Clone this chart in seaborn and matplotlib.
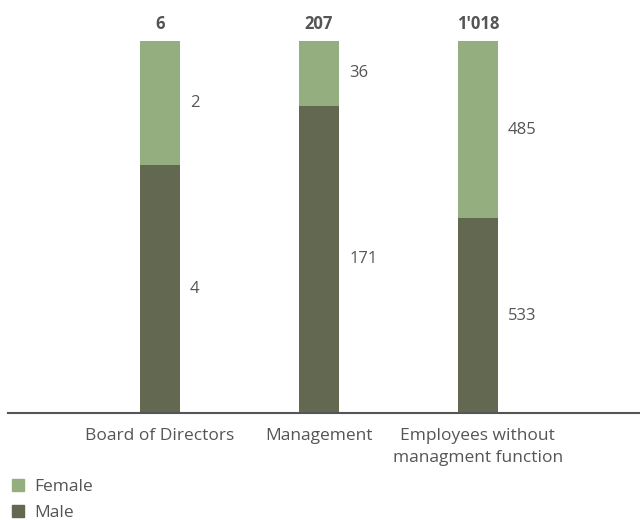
import numpy as np
import pandas as pd
import matplotlib.pyplot as plt
import matplotlib.patches as mpatches
import seaborn as sns

# data
categories = ["Board of Directors", "Management", "Employees without\nmanagment function"]
female = [2, 36, 485]
male = [4, 171, 533]
totals = ["6", "207", "1'018"]

female_color = "#95ae7f"
male_color = "#636850"
text_color = "#555555"

sns.set_theme(style="white")
plt.rcParams["font.family"] = ["Open Sans", "DejaVu Sans"]

df = pd.DataFrame({"category": categories, "female": female, "male": male})
df["total"] = df["female"] + df["male"]
df["male_share"] = df["male"] / df["total"]
df["full"] = 1.0

fig = plt.figure(figsize=(6.4, 5.2), dpi=100)
ax = fig.add_axes([0.0125, 0.206, 0.9875, 0.715])

# full bar in female colour, male share drawn over it (100% stacked)
sns.barplot(data=df, x="category", y="full", color=female_color, width=0.25,
            saturation=1, linewidth=0, ax=ax)
sns.barplot(data=df, x="category", y="male_share", color=male_color, width=0.25,
            saturation=1, linewidth=0, ax=ax)

ax.set_xlim(-0.955, 3.02)
ax.set_ylim(0, 1)
ax.set_xlabel("")
ax.set_ylabel("")
ax.set_yticks([])
for s in ["top", "right", "left"]:
    ax.spines[s].set_visible(False)
ax.spines["bottom"].set_color("#555555")
ax.spines["bottom"].set_linewidth(1.5)
ax.tick_params(axis="x", length=0, pad=11, labelsize=12.5, colors=text_color)
for lbl in ax.get_xticklabels():
    lbl.set_linespacing(1.5)

# value labels
for i, row in df.iterrows():
    ms = row["male_share"]
    ax.text(i + 0.19, ms / 2, str(row["male"]), va="center", ha="left",
            fontsize=12, color=text_color)
    ax.text(i + 0.19, ms + (1 - ms) / 2, str(row["female"]), va="center", ha="left",
            fontsize=12, color=text_color)
    ax.text(i, 1.022, totals[i], ha="center", va="bottom", fontsize=12,
            fontweight="bold", color=text_color, clip_on=False)

handles = [mpatches.Patch(color=female_color, label="Female"),
           mpatches.Patch(color=male_color, label="Male")]
fig.legend(handles=handles, loc="lower left", bbox_to_anchor=(0.0, -0.025),
           frameon=False, fontsize=12.5, labelcolor=text_color,
           handlelength=0.7, handleheight=0.7, handletextpad=0.6,
           labelspacing=0.55, borderaxespad=0.3)

fig.savefig("out.png", dpi=100)
